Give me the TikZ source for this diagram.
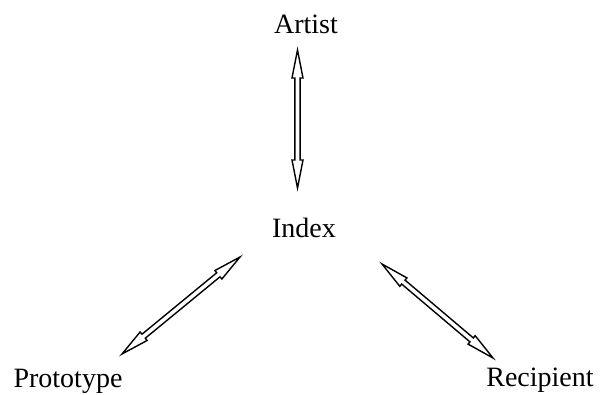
\documentclass[tikz,border=0pt]{standalone}
\usepackage{fontspec}
\setmainfont{Liberation Serif}
\usetikzlibrary{calc}
\tikzset{
  lbl/.style={anchor=base, inner sep=0pt, font=\fontsize{28}{32}\selectfont},
  dblarrow/.style={draw=black, line width=1.4pt, line join=miter, fill=white}
}
\newcommand{\biarrow}[2]{%
  \draw[dblarrow] (#1)
    -- ($(#1)!28pt!(#2)!5.5pt!90:(#2)$)
    -- ($(#1)!28pt!(#2)!2.6pt!90:(#2)$)
    -- ($(#2)!28pt!(#1)!2.6pt!-90:(#1)$)
    -- ($(#2)!28pt!(#1)!5.5pt!-90:(#1)$)
    -- (#2)
    -- ($(#2)!28pt!(#1)!5.5pt!90:(#1)$)
    -- ($(#2)!28pt!(#1)!2.6pt!90:(#1)$)
    -- ($(#1)!28pt!(#2)!2.6pt!-90:(#2)$)
    -- ($(#1)!28pt!(#2)!5.5pt!-90:(#2)$)
    -- cycle;}
\begin{document}
\begin{tikzpicture}[x=1pt,y=-1pt]
\useasboundingbox (0,0) rectangle (600,394);
\node[lbl] (artist) at (306,33) {Artist};
\node[lbl] (index) at (304,237) {Index};
\node[lbl] (proto) at (68,387) {Prototype};
\node[lbl] (recip) at (540,386) {Recipient};
\coordinate (a1) at (297.5,50);
\coordinate (a2) at (297.5,188);
\coordinate (l1) at (240,257);
\coordinate (l2) at (122,354);
\coordinate (r1) at (382,264);
\coordinate (r2) at (493,358);
\biarrow{a1}{a2}
\biarrow{l1}{l2}
\biarrow{r1}{r2}
\end{tikzpicture}
\end{document}
